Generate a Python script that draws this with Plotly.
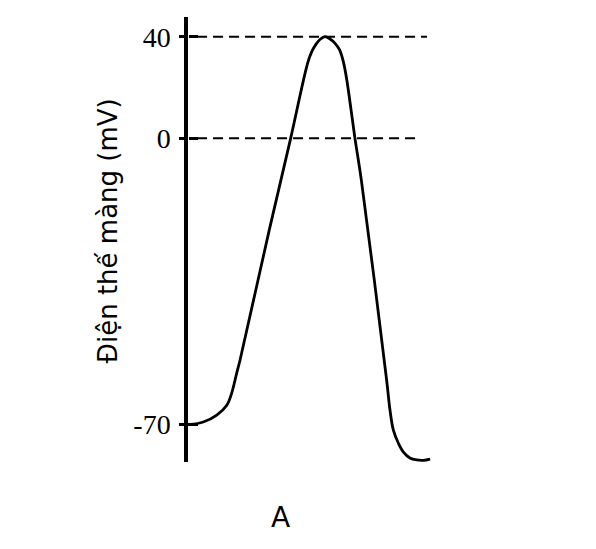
import plotly.graph_objects as go

# Time (arbitrary ms) and membrane potential (mV)
time_ms = [0, 0.17, 0.72, 1.28, 1.70, 1.90, 2.11, 2.25, 3.47, 4.36, 5.08, 5.25, 5.42,
           5.58, 5.79, 6.00, 6.21, 6.40, 6.56, 6.70, 7.04, 7.31, 8.36, 8.50, 8.64,
           8.85, 9.05, 9.33, 9.61, 9.89, 10.17]
voltage_mv = [-70, -70, -69.4, -67.7, -65.3, -62.4, -57.5, -54.3, -22.4, 0, 30.0, 34.3, 37.1,
              38.9, 40, 39.1, 37.4, 34.8, 30.0, 23.0, 0, -10.4, -59.2, -66.5, -71.4,
              -74.6, -76.7, -78.2, -78.7, -78.8, -78.5]

tick_values_mv = [-70, 0, 40]
tick_labels = ["-70", "0", "40"]

ref_levels_mv = [40, 0]
ref_start_ms = [0.46, 0.46]
ref_end_ms = [10.04, 9.75]

# The drawing is not to scale: below 0 mV the axis is stretched
NEG_SCALE = 1.6087


def to_axis(v):
    return v if v >= 0 else v * NEG_SCALE


y_plot = [to_axis(v) for v in voltage_mv]
tick_pos = [to_axis(v) for v in tick_values_mv]
y_range = [-127.4, 47.76]
x_range = [0.083, 10.416]

fig = go.Figure()
fig.add_trace(go.Scatter(
    x=time_ms, y=y_plot, mode="lines",
    line=dict(color="black", width=2.8, shape="spline", smoothing=1.0),
    hoverinfo="skip", showlegend=False, cliponaxis=False,
))
# invisible helper so the second (tick-only) axis is drawn
fig.add_trace(go.Scatter(
    x=[time_ms[-1]], y=[y_plot[-1]], yaxis="y2", mode="markers",
    marker=dict(size=1, opacity=0), hoverinfo="skip", showlegend=False,
))

for lvl, x0, x1 in zip(ref_levels_mv, ref_start_ms, ref_end_ms):
    fig.add_shape(type="line", xref="x", yref="y", x0=x0, x1=x1,
                  y0=to_axis(lvl), y1=to_axis(lvl),
                  line=dict(color="black", width=2, dash="10px,6px"))

fig.add_annotation(text="Điện thế màng (mV)", textangle=-90,
                   xref="paper", yref="paper", x=-0.322, y=0.519,
                   xanchor="center", yanchor="middle", showarrow=False,
                   font=dict(family="DejaVu Sans", size=26, color="black"))
fig.add_annotation(text="A", xref="paper", yref="paper", x=0.371, y=-0.1236,
                   xanchor="center", yanchor="middle", showarrow=False,
                   font=dict(family="DejaVu Sans", size=28, color="black"))

fig.update_layout(
    width=596, height=549,
    margin=dict(l=180, r=168, t=9, b=95),
    paper_bgcolor="white", plot_bgcolor="white",
    xaxis=dict(visible=False, range=x_range),
    yaxis=dict(range=y_range, tickvals=tick_pos, ticktext=tick_labels,
               showline=True, linewidth=3.5, linecolor="black",
               ticks="outside", ticklen=5, tickwidth=3, tickcolor="black",
               showgrid=False, zeroline=False, ticklabelstandoff=3,
               tickfont=dict(family="Liberation Serif", size=28, color="black")),
    yaxis2=dict(range=y_range, overlaying="y", anchor="free", position=0,
                side="right", tickmode="array", tickvals=tick_pos,
                showticklabels=False,
                ticks="outside", ticklen=9, tickwidth=3, tickcolor="black",
                showline=False, showgrid=False, zeroline=False),
)

fig.write_html("out.html")
